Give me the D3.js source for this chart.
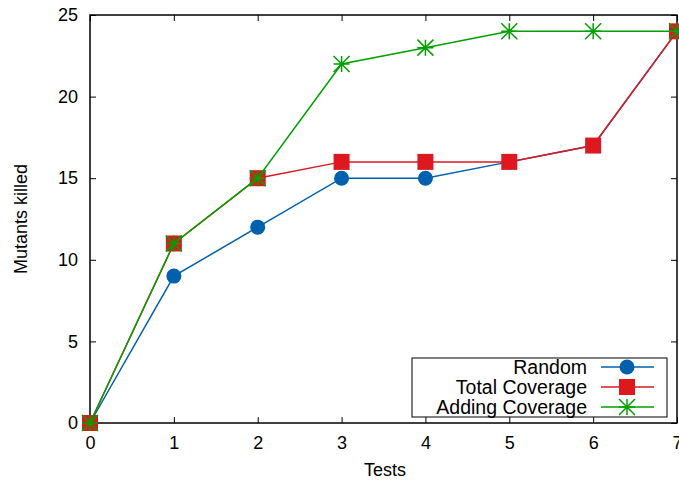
<!DOCTYPE html>
<html lang="en">
<head>
<meta charset="UTF-8">
<title>Mutants killed</title>
<script src="https://cdn.jsdelivr.net/npm/d3@7"></script>
<style>
    body { margin: 0; background: #fff; }
    text { font-family: "Liberation Sans", Arial, sans-serif; font-size: 18px; fill: #000; }
</style>
</head>
<body>
<script>
    var tests = [0, 1, 2, 3, 4, 5, 6, 7];
    var random = [0, 9, 12, 15, 15, 16, 17, 24];
    var totalCoverage = [0, 11, 15, 16, 16, 16, 17, 24];
    var addingCoverage = [0, 11, 15, 22, 23, 24, 24, 24];
    var yTicks = [0, 5, 10, 15, 20, 25];
    var seriesNames = ["Random", "Total Coverage", "Adding Coverage"];

    var width = 679, height = 483;
    // note: "top" is a reserved window property, so use plot* names
    var plotLeft = 90, plotRight = 677, plotTop = 15, plotBottom = 423;

    var x = d3.scaleLinear().domain([0, 7]).range([plotLeft, plotRight]);
    var y = d3.scaleLinear().domain([0, 25]).range([plotBottom, plotTop]);

    var svg = d3.select("body").append("svg")
        .attr("width", width).attr("height", height);

    // inward ticks on all four sides, like gnuplot
    svg.append("g").attr("transform", "translate(0," + plotBottom + ")")
        .call(d3.axisBottom(x).tickValues(tests).tickFormat(d3.format("d")).tickSize(-6).tickPadding(13))
        .call(g => g.select(".domain").remove());
    svg.append("g").attr("transform", "translate(0," + plotTop + ")")
        .call(d3.axisTop(x).tickValues(tests).tickSize(-6).tickFormat(""))
        .call(g => g.select(".domain").remove());
    svg.append("g").attr("transform", "translate(" + plotLeft + ",0)")
        .call(d3.axisLeft(y).tickValues(yTicks).tickSize(-6).tickPadding(12))
        .call(g => g.select(".domain").remove());
    svg.append("g").attr("transform", "translate(" + plotRight + ",0)")
        .call(d3.axisRight(y).tickValues(yTicks).tickSize(-6).tickFormat(""))
        .call(g => g.select(".domain").remove());
    svg.selectAll(".tick line").attr("stroke", "#000").attr("stroke-width", 1);
    svg.selectAll(".tick text").style("font-size", "18px").attr("font-family", null);

    svg.append("rect")
        .attr("x", plotLeft).attr("y", plotTop)
        .attr("width", plotRight - plotLeft).attr("height", plotBottom - plotTop)
        .attr("fill", "none").attr("stroke", "#000").attr("stroke-width", 1.5);

    svg.append("text").attr("x", 385).attr("y", 476)
        .attr("text-anchor", "middle").text("Tests");
    svg.append("text")
        .attr("transform", "translate(27," + 219 + ") rotate(-90)")
        .attr("text-anchor", "middle").text("Mutants killed");

    var series = [
        { name: seriesNames[0], values: random, color: "#0060ad", shape: "circle" },
        { name: seriesNames[1], values: totalCoverage, color: "#dd181f", shape: "square" },
        { name: seriesNames[2], values: addingCoverage, color: "#00a000", shape: "star" }
    ];

    function marker(g, shape, color) {
        if (shape === "circle") {
            g.append("circle").attr("r", 7.5).attr("fill", color);
        } else if (shape === "square") {
            g.append("rect").attr("x", -8).attr("y", -8).attr("width", 16).attr("height", 16).attr("fill", color);
        } else {
            var r = 8;
            var p = "M" + (-r) + ",0H" + r + "M0," + (-r) + "V" + r +
                "M" + (-r) + "," + (-r) + "L" + r + "," + r +
                "M" + (-r) + "," + r + "L" + r + "," + (-r);
            g.append("path").attr("d", p).attr("stroke", color).attr("stroke-width", 1.5).attr("fill", "none");
        }
    }

    var line = d3.line().x((d, i) => x(tests[i])).y(d => y(d));

    series.forEach(function(s) {
        svg.append("path").datum(s.values)
            .attr("d", line).attr("fill", "none")
            .attr("stroke", s.color).attr("stroke-width", 1.5);
        s.values.forEach(function(v, i) {
            var g = svg.append("g").attr("transform", "translate(" + x(tests[i]) + "," + y(v) + ")");
            marker(g, s.shape, s.color);
        });
    });

    // legend
    var lg = svg.append("g");
    lg.append("rect").attr("x", 412).attr("y", 358).attr("width", 255).attr("height", 59)
        .attr("fill", "#fff").attr("stroke", "#000").attr("stroke-width", 1);
    series.forEach(function(s, i) {
        var yy = 367 + i * 20;
        lg.append("text").attr("x", 587).attr("y", yy).attr("dy", "0.35em")
            .attr("text-anchor", "end").style("font-size", "19.5px").text(s.name);
        lg.append("line").attr("x1", 601).attr("x2", 654).attr("y1", yy).attr("y2", yy)
            .attr("stroke", s.color).attr("stroke-width", 1.5);
        var g = lg.append("g").attr("transform", "translate(627," + yy + ")");
        marker(g, s.shape, s.color);
    });
</script>
</body>
</html>
